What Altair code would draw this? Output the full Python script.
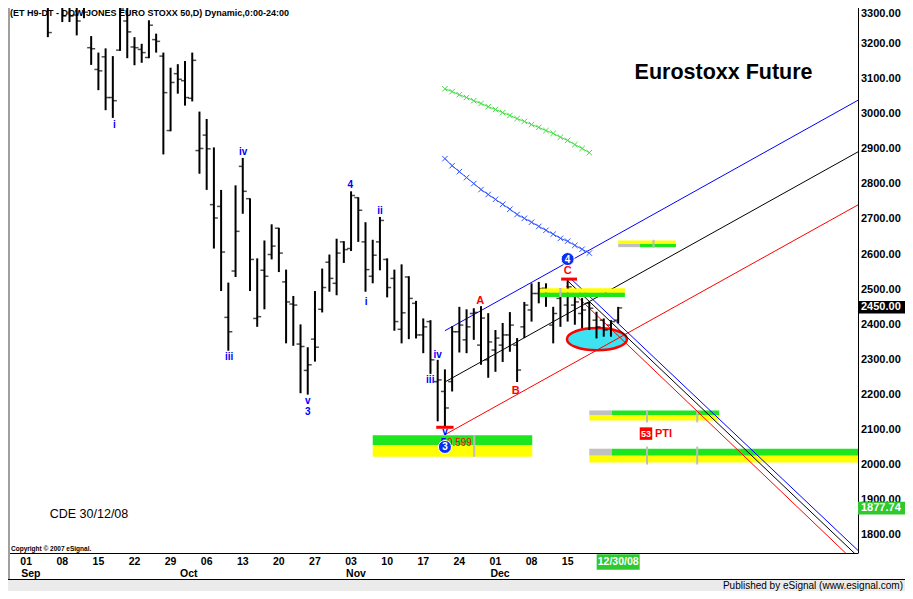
import altair as alt
import pandas as pd

# ---------------- data (trading-day index 0 = Mon 01 Sep 2008) ----------------
day = list(range(83))
op = [3330, 3325, 3335, 3340, 3330, 3345, 3310, 3282, 3330, 3189,
      3127, 3163, 3047, 3182, 3265, 3191, 3184, 3161, 3212, 3165,
      2953, 3115, 3095, 3045, 2896, 2940, 2742, 2737, 2421, 2553,
      2851, 2759, 2418, 2555, 2600, 2675, 2522, 2459, 2345, 2270,
      2359, 2444, 2578, 2518, 2636, 2617, 2762, 2636, 2538, 2636,
      2586, 2532, 2387, 2536, 2461, 2371, 2409, 2238, 2210, 2238,
      2380, 2357, 2432, 2342, 2300, 2328, 2342, 2371, 2342, 2394,
      2442, 2489, 2504, 2399, 2475, 2456, 2456, 2432, 2461, 2413,
      2413, 2399, 2413]
hi = [3345, 3350, 3360, 3365, 3350, 3370, 3370, 3340, 3370, 3222,
      3175, 3187, 3165, 3330, 3325, 3219, 3200, 3267, 3229, 3175,
      3132, 3142, 3151, 3175, 3007, 2986, 2905, 2784, 2520, 2797,
      2875, 2760, 2589, 2640, 2686, 2676, 2557, 2482, 2401, 2336,
      2496, 2560, 2600, 2645, 2638, 2780, 2763, 2692, 2642, 2707,
      2589, 2557, 2572, 2538, 2468, 2418, 2413, 2300, 2273, 2396,
      2451, 2444, 2447, 2453, 2433, 2385, 2405, 2436, 2362, 2465,
      2518, 2522, 2518, 2451, 2503, 2527, 2481, 2476, 2465, 2437,
      2418, 2413, 2451]
lo = [3316, 3317, 3318, 3219, 3305, 3262, 3262, 3224, 3273, 3140,
      3068, 3011, 2989, 3180, 3159, 3139, 3146, 3159, 3175, 2885,
      2951, 3058, 3024, 3036, 2830, 2784, 2617, 2496, 2326, 2536,
      2716, 2496, 2394, 2444, 2586, 2550, 2347, 2340, 2205, 2201,
      2295, 2435, 2494, 2484, 2576, 2610, 2636, 2494, 2518, 2555,
      2478, 2383, 2347, 2359, 2361, 2319, 2260, 2125, 2110, 2210,
      2321, 2319, 2357, 2286, 2249, 2266, 2294, 2323, 2237, 2362,
      2409, 2461, 2451, 2347, 2394, 2409, 2400, 2390, 2385, 2361,
      2366, 2366, 2404]
cl = [3320, 3335, 3322, 3232, 3312, 3279, 3279, 3265, 3290, 3186,
      3123, 3047, 3038, 3299, 3234, 3189, 3175, 3253, 3207, 3061,
      3090, 3099, 3047, 3153, 2902, 2901, 2704, 2607, 2380, 2666,
      2780, 2586, 2423, 2538, 2624, 2604, 2465, 2456, 2338, 2286,
      2336, 2506, 2532, 2604, 2614, 2768, 2726, 2557, 2598, 2697,
      2506, 2409, 2434, 2475, 2371, 2394, 2300, 2243, 2163, 2380,
      2399, 2394, 2435, 2419, 2351, 2362, 2371, 2399, 2271, 2456,
      2489, 2503, 2489, 2432, 2489, 2508, 2465, 2442, 2447, 2394,
      2385, 2409, 2448]

tick_days = [0, 5, 10, 15, 20, 25, 30, 35, 40, 45, 50, 55, 60, 65, 70, 75]
tick_labels = ["01", "08", "15", "22", "29", "06", "13", "20", "27", "03",
               "10", "17", "24", "01", "08", "15"]
month_names = ["Sep", "Oct", "Nov", "Dec"]
month_days = [0, 22, 45, 65]
y_ticks = [1800, 1900, 2000, 2100, 2200, 2300, 2400, 2500, 2600, 2700,
           2800, 2900, 3000, 3100, 3200]
y_top_tick = [3300]

# channel / fan lines (name, start day, start price, end day, end price, colour)
ln_name = ["up_b", "up_k", "up_r", "dn_b", "dn_k", "dn_r"]
ln_d0 = [58.0, 58.0, 58.0, 75.5, 74.9, 74.8]
ln_p0 = [2383, 2237, 2087, 2530, 2527, 2510]
ln_d1 = [115.8, 115.8, 115.8, 115.8, 114.9, 113.7]
ln_p1 = [3046, 2899, 2748, 1746, 1746, 1746]
ln_col = ["#0000ff", "#000000", "#ff0000", "#0000ff", "#000000", "#ff0000"]

# projection lines with x markers
gx_days = list(range(58, 79))
green_x = [3072, 3064, 3055, 3047, 3038, 3030, 3021, 3013, 3004, 2996, 2987,
           2979, 2970, 2962, 2953, 2945, 2934, 2925, 2913, 2902, 2890]
blue_x = [2873, 2853, 2836, 2819, 2802, 2785, 2771, 2757, 2743, 2729, 2714,
          2703, 2692, 2680, 2669, 2658, 2646, 2638, 2626, 2615, 2604]

# target zones
bd_x1 = [48.0, 48.0, 82.0, 82.0, 85.0, 71.2, 71.2, 78.0, 81.1, 78.0, 78.0, 81.1, 78.0]
bd_x2 = [70.1, 70.1, 90.0, 85.0, 90.0, 82.9, 82.9, 81.1, 96.0, 96.0, 81.1, 117.0, 117.0]
bd_y1 = [2057, 2024, 2630, 2621, 2621, 2491, 2479, 2143, 2143, 2127, 2027, 2027, 2008]
bd_y2 = [2085, 2057, 2640, 2630, 2630, 2503, 2491, 2156, 2156, 2143, 2047, 2047, 2027]
bd_col = ["#1ee61e", "#ffff00", "#ffff00", "#c0c0c0", "#1ee61e", "#ffff00", "#1ee61e",
          "#c0c0c0", "#1ee61e", "#ffff00", "#c0c0c0", "#1ee61e", "#ffff00"]
gt_d = [62.06, 86.9, 74.0, 86.0, 92.95, 86.0, 92.95]
gt_p1 = [2024, 2619, 2479, 2122, 2122, 2002, 2002]
gt_p2 = [2086, 2642, 2504, 2157, 2157, 2053, 2053]

# wave labels
wv_text = ["i", "iii", "iv", "v", "3", "4", "ii", "i", "iv", "iii", "v", "5"]
wv_d = [12.2, 28.1, 30.05, 39.0, 39.0, 44.9, 49.0, 47.1, 57.0, 55.97, 58.0, 57.8]
wv_p = [2970, 2307, 2892, 2183, 2152, 2798, 2724, 2466, 2315, 2242, 2095, 2064]
abc_text = ["A", "B", "C"]
abc_d = [62.9, 67.8, 75.0]
abc_p = [2467, 2212, 2552]
mark_d0 = [74.1, 56.8]
mark_d1 = [76.3, 59.2]
mark_p = [2530, 2108]
circ_text = ["3", "4"]
circ_d = [58.0, 75.0]
circ_p = [2052, 2587]
last_close = 2450
level_val = 1877.74

W, H = 850, 545
FA = "'Liberation Sans', Arial, sans-serif"
xs = alt.Scale(domain=[-2.52, 115.22], nice=False, zero=False)
ys = alt.Scale(domain=[1750, 3302], nice=False, zero=False)


def X(f):
    return alt.X(f, type="quantitative", scale=xs, axis=None)


def Y(f):
    return alt.Y(f, type="quantitative", scale=ys, axis=None)


ohlc = pd.DataFrame(dict(d=day, o=op, h=hi, l=lo, c=cl))

bands = alt.Chart(pd.DataFrame(dict(x1=bd_x1, x2=bd_x2, y1=bd_y1, y2=bd_y2, col=bd_col))).mark_rect(clip=True).encode(
    x=X("x1"), x2="x2", y=Y("y1"), y2="y2", color=alt.Color("col:N", scale=None))
gticks = alt.Chart(pd.DataFrame(dict(d=gt_d, p1=gt_p1, p2=gt_p2))).mark_rule(color="#bdbdbd", strokeWidth=2, clip=True).encode(
    x=X("d"), y=Y("p1"), y2="p2")

ellipse = alt.Chart(pd.DataFrame(dict(d=[79.06], p=[2359]))).mark_point(
    shape="M-1,0C-1,-0.2043,-0.5523,-0.37,0,-0.37C0.5523,-0.37,1,-0.2043,1,0C1,0.2043,0.5523,0.37,0,0.37C-0.5523,0.37,-1,0.2043,-1,0Z",
    size=3600, filled=True, fill="#3de3f0", stroke="#ff0000", strokeWidth=2.5, opacity=1).encode(x=X("d"), y=Y("p"))

bars = alt.Chart(ohlc).mark_rule(color="black", strokeWidth=2, clip=True).encode(
    x=X("d"), y=Y("l"), y2="h:Q")
open_t = alt.Chart(ohlc).mark_tick(orient="horizontal", color="black", size=4, thickness=1.5, xOffset=-2,
                                   clip=True).encode(x=X("d"), y=Y("o"))
close_t = alt.Chart(ohlc).mark_tick(orient="horizontal", color="black", size=4, thickness=1.5, xOffset=2,
                                    clip=True).encode(x=X("d"), y=Y("c"))

band3 = alt.Chart(pd.DataFrame(dict(x1=bd_x1[5:7], x2=bd_x2[5:7], y1=bd_y1[5:7], y2=bd_y2[5:7], col=bd_col[5:7]))).mark_rect(clip=True).encode(
    x=X("x1"), x2="x2", y=Y("y1"), y2="y2", color=alt.Color("col:N", scale=None))
band3_tick = alt.Chart(pd.DataFrame(dict(d=gt_d[2:3], p1=gt_p1[2:3], p2=gt_p2[2:3]))).mark_rule(color="#bdbdbd", strokeWidth=2, clip=True).encode(
    x=X("d"), y=Y("p1"), y2="p2")

lrows = []
for n, a, b, c, e, col in zip(ln_name, ln_d0, ln_p0, ln_d1, ln_p1, ln_col):
    lrows.append(dict(name=n, d=a, p=b, col=col))
    lrows.append(dict(name=n, d=c, p=e, col=col))
lines = alt.Chart(pd.DataFrame(lrows)).mark_line(strokeWidth=1, clip=True).encode(
    x=X("d"), y=Y("p"), detail="name:N", color=alt.Color("col:N", scale=None))

gdf = pd.DataFrame(dict(d=gx_days * 2, p=green_x + blue_x,
                        name=["g"] * len(gx_days) + ["b"] * len(gx_days),
                        col=["#44dd44"] * len(gx_days) + ["#3355ff"] * len(gx_days)))
gline = alt.Chart(gdf).mark_line(strokeWidth=1, clip=True).encode(
    x=X("d"), y=Y("p"), detail="name:N", color=alt.Color("col:N", scale=None))
gpts = alt.Chart(gdf).mark_point(shape="M-1,-1L1,1M-1,1L1,-1", size=30, filled=False, strokeWidth=1,
                                 opacity=1, clip=True).encode(
    x=X("d"), y=Y("p"), color=alt.Color("col:N", scale=None))

redmarks = alt.Chart(pd.DataFrame(dict(d0=mark_d0, d1=mark_d1, p=mark_p))).mark_rule(
    color="#ff0000", strokeWidth=3).encode(x=X("d0"), x2="d1", y=Y("p"))

waves = alt.Chart(pd.DataFrame(dict(t=wv_text, d=wv_d, p=wv_p))).mark_text(
    color="#0000ff", font=FA, fontWeight="bold", fontSize=10).encode(x=X("d"), y=Y("p"), text="t:N")
ratio = alt.Chart(pd.DataFrame(dict(t=["0.599"], d=[58.0], p=[2064]))).mark_text(
    color="#ff0000", font=FA, fontSize=10, align="left", dx=2).encode(x=X("d"), y=Y("p"), text="t:N")
abc = alt.Chart(pd.DataFrame(dict(t=abc_text, d=abc_d, p=abc_p))).mark_text(
    color="#ff0000", font=FA, fontWeight="bold", fontSize=11).encode(x=X("d"), y=Y("p"), text="t:N")

cdf = pd.DataFrame(dict(t=circ_text, d=circ_d, p=circ_p))
circ = alt.Chart(cdf).mark_circle(size=170, color="#0a2ff0", opacity=1, stroke="white", strokeWidth=1).encode(
    x=X("d"), y=Y("p"))
circ_t = alt.Chart(cdf).mark_text(color="white", font=FA, fontWeight="bold", fontSize=10, dy=0.5).encode(
    x=X("d"), y=Y("p"), text="t:N")

pti_box = alt.Chart(pd.DataFrame(dict(d=[85.85], p=[2090]))).mark_square(size=156, color="#ff0000", opacity=1).encode(
    x=X("d"), y=Y("p"))
pti_num = alt.Chart(pd.DataFrame(dict(t=["53"], d=[85.85], p=[2090]))).mark_text(
    color="white", font=FA, fontWeight="bold", fontSize=9).encode(x=X("d"), y=Y("p"), text="t:N")
pti_txt = alt.Chart(pd.DataFrame(dict(t=["PTI"], d=[87.1], p=[2090]))).mark_text(
    color="#ff0000", font=FA, fontWeight="bold", fontSize=11, align="left").encode(x=X("d"), y=Y("p"), text="t:N")

big = alt.Chart(pd.DataFrame(dict(t=["Eurostoxx Future"], d=[96.6], p=[3117]))).mark_text(
    color="black", font=FA, fontWeight="bold", fontSize=21.5).encode(x=X("d"), y=Y("p"), text="t:N")
cde = alt.Chart(pd.DataFrame(dict(t=["CDE 30/12/08"], d=[8.7], p=[1860]))).mark_text(
    color="black", font=FA, fontSize=12.5).encode(x=X("d"), y=Y("p"), text="t:N")

# ---------------- axes (labels placed through the scales) ----------------
ylab = alt.Chart(pd.DataFrame(dict(v=y_ticks))).mark_text(
    font=FA, fontWeight="bold", fontSize=11, color="black", align="left").encode(
    x=alt.value(W + 3), y=Y("v"), text=alt.Text("v:Q", format=".2f"))
ylab_top = alt.Chart(pd.DataFrame(dict(v=y_top_tick))).mark_text(
    font=FA, fontWeight="bold", fontSize=11, color="black", align="left", dy=5).encode(
    x=alt.value(W + 3), y=Y("v"), text=alt.Text("v:Q", format=".2f"))
xlab = alt.Chart(pd.DataFrame(dict(d=tick_days, t=tick_labels))).mark_text(
    font=FA, fontWeight="bold", fontSize=10.5, color="black").encode(
    x=X("d"), y=alt.value(H + 9), text="t:N")
months = alt.Chart(pd.DataFrame(dict(t=month_names, d=month_days))).mark_text(
    font=FA, fontWeight="bold", fontSize=10.5, align="left", dx=-5, color="black").encode(
    x=X("d"), y=alt.value(H + 21), text="t:N")

one = pd.DataFrame(dict(k=[0]))
right_dom = alt.Chart(one).mark_rule(color="black", strokeWidth=1).encode(
    x=alt.value(W + 0.5), y=alt.value(0), y2=alt.value(H))
bottom_dom = alt.Chart(one).mark_rule(color="black", strokeWidth=1).encode(
    x=alt.value(0), x2=alt.value(W + 0.5), y=alt.value(H + 0.5))
left_border = alt.Chart(one).mark_rule(color="#a0a0a0", strokeWidth=2).encode(
    x=alt.value(1), y=alt.value(0), y2=alt.value(H + 26))

title = alt.Chart(one).mark_text(text="(ET H9-DT - DOW JONES EURO STOXX 50,D) Dynamic,0:00-24:00", font=FA,
                                 fontWeight="bold", fontSize=9, align="left", baseline="top", color="black").encode(
    x=alt.value(2), y=alt.value(1))
copy = alt.Chart(one).mark_text(text="Copyright \u00a9 2007 eSignal.", font=FA, fontWeight="bold", fontSize=6.5,
                                align="left", color="black").encode(x=alt.value(3), y=alt.value(H - 4))

date_box = alt.Chart(pd.DataFrame(dict(d=[82]))).mark_point(
    shape="M-1.4,-0.5H1.4V0.5H-1.4Z", size=944, filled=True, color="#2fc82f", opacity=1).encode(
    x=X("d"), y=alt.value(H + 9))
date_txt = alt.Chart(pd.DataFrame(dict(t=["12/30/08"], d=[82]))).mark_text(
    font=FA, fontWeight="bold", fontSize=10.5, color="white").encode(x=X("d"), y=alt.value(H + 9), text="t:N")

lvl = pd.DataFrame(dict(p=[last_close, level_val], t=["2450.00", "1877.74"], col=["#000000", "#2fc82f"]))
lvl_box = alt.Chart(lvl).mark_point(shape="M-1.6,-0.42H1.6V0.42H-1.6Z", size=900, filled=True, opacity=1).encode(
    x=alt.value(W + 24), y=Y("p"), color=alt.Color("col:N", scale=None))
lvl_txt = alt.Chart(lvl).mark_text(font=FA, fontWeight="bold", fontSize=11, color="white", align="left").encode(
    x=alt.value(W + 3), y=Y("p"), text="t:N")

footer = alt.Chart(one).mark_rect(color="#ebebeb").encode(
    x=alt.value(-2), x2=alt.value(W + 50), y=alt.value(H + 27), y2=alt.value(H + 40))
footer_line = alt.Chart(one).mark_rule(color="black", strokeWidth=1).encode(
    x=alt.value(-2), x2=alt.value(W + 50), y=alt.value(H + 26.5))
pub = alt.Chart(one).mark_text(text="Published by eSignal (www.esignal.com)", font=FA, fontSize=10,
                               align="right", color="black").encode(x=alt.value(W + 45), y=alt.value(H + 33))

chart = alt.layer(
    bands, gticks, ellipse, lines, gline, gpts, bars, open_t, close_t, band3, band3_tick,
    redmarks, waves, ratio, abc, circ, circ_t, pti_box, pti_num, pti_txt, big, cde,
    right_dom, bottom_dom, left_border, ylab, ylab_top, xlab, months, title, copy,
    date_box, date_txt, lvl_box, lvl_txt, footer, footer_line, pub
).properties(
    width=W, height=H,
    padding={"left": 0, "top": 0, "right": 47, "bottom": 38},
    autosize=alt.AutoSizeParams(type="none"),
    background="white"
).configure_view(stroke=None)

chart.save("out.html", embed_options={"renderer": "svg", "actions": False})
